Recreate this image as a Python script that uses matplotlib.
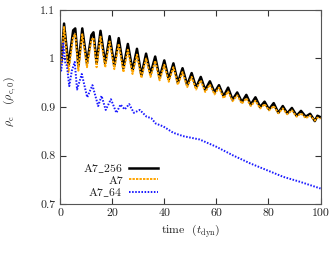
import matplotlib
matplotlib.use("Agg")
import matplotlib.pyplot as plt
import numpy as np

plt.rcParams["font.family"] = ["cmr10", "DejaVu Serif"]
plt.rcParams["mathtext.fontset"] = "cm"
plt.rcParams["axes.formatter.use_mathtext"] = True

# A7_256 (black)
t_256 = [0, 0.5, 1.5, 3.2, 5.0, 5.8, 7.0, 8.5, 10.3, 12.0, 12.8, 14.0, 15.5, 17.3,
         19.0, 20.8, 22.5, 24.3, 26.0, 27.8, 29.5, 31.2, 33.0, 34.7, 36.5, 38.2,
         40.0, 41.7, 43.5, 45.2, 47.0, 48.8, 50.5, 52.2, 54.0, 55.7, 57.5, 59.3,
         61.0, 62.8, 64.5, 66.2, 68.0, 69.8, 71.5, 73.2, 75.0, 76.8, 78.5, 80.2,
         82.0, 83.8, 85.5, 87.2, 89.0, 90.8, 92.5, 94.3, 96.0, 97.8, 98.8, 100.0]
rho_256 = [1.0, 0.995, 1.072, 0.985, 1.058, 1.062, 0.985, 1.062, 0.99, 1.048, 1.054,
           0.99, 1.057, 0.99, 1.046, 0.985, 1.042, 0.98, 1.03, 0.975, 1.02, 0.965,
           1.01, 0.968, 1.004, 0.96, 0.996, 0.957, 0.99, 0.95, 0.98, 0.945, 0.97,
           0.94, 0.962, 0.935, 0.953, 0.93, 0.945, 0.922, 0.94, 0.915, 0.93, 0.91,
           0.925, 0.905, 0.92, 0.9, 0.911, 0.895, 0.908, 0.888, 0.902, 0.887, 0.898,
           0.882, 0.892, 0.88, 0.886, 0.871, 0.882, 0.879]

# A7 (orange)
t_a7 = t_256
rho_a7 = [0.998, 0.99, 1.065, 0.972, 1.045, 1.05, 0.975, 1.05, 0.982, 1.038, 1.043,
          0.982, 1.045, 0.982, 1.035, 0.978, 1.03, 0.972, 1.018, 0.968, 1.008, 0.96,
          1.0, 0.962, 0.995, 0.955, 0.987, 0.952, 0.982, 0.946, 0.972, 0.941, 0.962,
          0.936, 0.955, 0.931, 0.946, 0.926, 0.94, 0.918, 0.932, 0.912, 0.924, 0.907,
          0.918, 0.902, 0.913, 0.897, 0.906, 0.893, 0.902, 0.887, 0.897, 0.885, 0.893,
          0.88, 0.887, 0.877, 0.882, 0.872, 0.878, 0.876]

# A7_64 (blue)
t_64 = [0, 0.4, 0.8, 1.2, 2.0, 2.6, 3.5, 4.5, 5.6, 6.5, 8.3, 10.4, 12.4, 14.6, 15.9,
        17.5, 19.5, 21.6, 23.2, 24.8, 26.5, 28.3, 30.6, 33.2, 35.0, 36.7, 39.6,
        43.4, 47.2, 53.6, 60.0, 66.5, 72.9, 79.3, 85.7, 92.0, 100.0]
rho_64 = [0.99, 0.975, 0.995, 1.031, 0.99, 0.985, 0.943, 0.975, 0.993, 0.936, 0.968,
          0.92, 0.945, 0.902, 0.923, 0.894, 0.916, 0.888, 0.905, 0.895, 0.906, 0.888,
          0.894, 0.88, 0.877, 0.866, 0.86, 0.847, 0.84, 0.833, 0.818, 0.80, 0.784,
          0.77, 0.756, 0.746, 0.732]

labels = [r"A7$\_$256", "A7", r"A7$\_$64"]

fig = plt.figure(figsize=(3.36, 2.56), dpi=100)
ax = fig.add_axes([0.179, 0.203, 0.775, 0.758])

ax.plot(t_256, rho_256, color="black", lw=1.8, label=labels[0])
ax.plot(t_a7, rho_a7, color="#ffa500", lw=1.4, ls=(0, (1.2, 0.6)), label=labels[1])
ax.plot(t_64, rho_64, color="#1a1aff", lw=1.4, ls=(0, (0.8, 0.8)), label=labels[2])

ax.set_xlim(0, 100)
ax.set_ylim(0.7, 1.1)
ax.set_xticks([0, 20, 40, 60, 80, 100])
ax.set_xticklabels(["0", "20", "40", "60", "80", "100"])
ax.set_yticks([0.7, 0.8, 0.9, 1.0, 1.1])
ax.set_yticklabels(["0.7", "0.8", "0.9", "1", "1.1"])
ax.tick_params(direction="in", top=True, right=True, length=4, width=0.8,
               labelsize=8.5, colors="#333333", labelcolor="#222222")
for s in ax.spines.values():
    s.set_color("#555555")
    s.set_linewidth(0.8)

ax.set_xlabel(r"time  ($t_{\rm dyn}$)", fontsize=8.5, color="#222222", labelpad=3)
ax.set_ylabel(r"$\rho_{\rm c}$   ($\rho_{\rm c,0}$)", fontsize=8.5, color="#222222",
              labelpad=14)
ax.yaxis.set_label_coords(-0.16, 0.53)

leg = ax.legend(loc="lower left", bbox_to_anchor=(0.06, -0.01), frameon=False,
                markerfirst=False, fontsize=8.5, handlelength=2.5,
                labelspacing=0.05, handletextpad=0.5, borderaxespad=0.2)
for txt in leg.get_texts():
    txt.set_ha("right")
    txt.set_color("#222222")
leg._legend_box.align = "right"

fig.savefig("out.png", dpi=100)
